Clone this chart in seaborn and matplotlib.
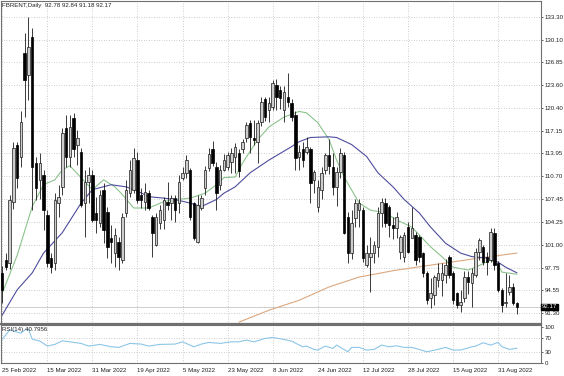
import numpy as np
import pandas as pd
import matplotlib
matplotlib.use("Agg")
import matplotlib.pyplot as plt
import seaborn as sns

sns.set_style("white")
plt.rcParams["font.family"] = ["Liberation Sans", "DejaVu Sans"]

# ---------------- data ----------------
opens = [97.0, 98.8, 98.4, 107.1, 115.2, 113.5, 128.2, 125.1, 130.4, 112.6,
         110.2, 110.9, 105.2, 99.1, 98.4, 106.9, 109.2, 117.6, 113.5, 119.0,
         115.2, 114.2, 106.9, 109.9, 110.9, 105.5, 104.1, 108.8, 105.6, 102.0,
         99.8, 101.4, 98.8, 105.5, 108.3, 108.8, 113.0, 108.1, 107.1, 108.3,
         104.9, 101.0, 104.1, 104.5, 107.1, 106.9, 107.6, 106.9, 110.5, 111.2,
         111.6, 106.9, 101.4, 106.2, 109.1, 111.9, 114.5, 112.0, 109.5, 111.6,
         112.0, 112.7, 113.5, 114.0, 114.5, 116.2, 118.3, 116.2, 115.5, 118.4,
         121.6, 120.1, 120.6, 123.7, 123.0, 120.1, 122.0, 121.1, 119.4, 113.5,
         114.5, 114.2, 114.5, 110.2, 106.4, 108.8, 111.6, 113.7, 112.0, 109.2,
         111.3, 113.7, 104.9, 99.8, 104.8, 105.9, 105.9, 98.1, 99.3, 99.8,
         100.7, 105.5, 106.9, 106.3, 103.8, 103.4, 100.0, 99.3, 103.5, 102.0,
         102.4, 102.1, 99.8, 97.0, 93.4, 93.9, 96.0, 96.0, 96.7, 99.3,
         97.0, 94.1, 92.4, 93.4, 96.4, 95.6, 96.7, 100.0, 100.7, 99.3,
         98.8, 102.7, 98.4, 94.6, 92.7, 94.3, 95.0, 92.78]
highs = [98.0, 99.8, 108.0, 115.5, 115.5, 119.9, 131.1, 133.3, 131.8, 113.5,
         114.0, 111.6, 105.9, 99.8, 108.3, 109.5, 117.5, 119.4, 119.4, 119.7,
         117.3, 114.7, 111.6, 112.0, 111.6, 107.8, 108.7, 109.7, 106.3, 103.8,
         103.4, 102.1, 105.5, 110.2, 113.0, 114.7, 114.2, 109.0, 109.7, 108.8,
         105.2, 105.5, 106.6, 107.8, 109.9, 108.1, 108.0, 110.9, 112.0, 113.7,
         111.9, 107.1, 108.0, 108.1, 112.1, 114.7, 115.7, 112.7, 112.3, 113.9,
         114.2, 114.7, 115.4, 114.5, 116.0, 118.4, 118.7, 118.7, 118.7, 121.9,
         122.0, 122.0, 124.4, 124.5, 123.5, 123.5, 125.4, 121.6, 119.9, 115.2,
         115.5, 116.3, 114.9, 111.6, 110.2, 112.0, 114.0, 116.0, 114.0, 112.0,
         114.7, 114.2, 105.6, 105.9, 107.5, 107.5, 106.3, 101.0, 102.1, 101.5,
         106.4, 107.6, 107.6, 106.6, 104.9, 105.6, 102.4, 102.8, 104.2, 106.3,
         102.8, 102.4, 100.0, 97.2, 96.3, 96.7, 98.4, 98.4, 99.0, 99.6,
         97.2, 94.3, 94.5, 97.3, 97.3, 97.7, 100.5, 102.0, 101.0, 100.0,
         103.4, 103.4, 98.7, 94.9, 97.0, 96.7, 95.5, 92.84]
lows = [92.7, 97.4, 97.5, 106.0, 109.0, 112.0, 119.1, 121.5, 105.9, 107.4,
        107.5, 103.1, 97.8, 97.0, 97.4, 104.9, 108.0, 112.0, 112.0, 113.5,
        112.3, 106.3, 102.1, 106.9, 104.2, 102.7, 103.5, 101.2, 99.1, 98.4,
        97.8, 97.4, 98.4, 104.9, 107.8, 108.3, 106.9, 106.2, 105.9, 105.9,
        99.3, 100.8, 103.2, 103.2, 105.9, 104.5, 104.2, 105.5, 110.2, 110.5,
        104.5, 101.6, 101.2, 105.9, 108.0, 111.4, 112.1, 105.9, 108.8, 111.4,
        111.6, 111.2, 111.2, 110.6, 114.0, 115.5, 114.0, 115.2, 112.6, 117.9,
        118.6, 118.4, 120.1, 120.1, 120.3, 118.4, 120.6, 118.5, 111.6, 111.6,
        112.0, 113.8, 106.9, 108.3, 105.6, 107.5, 111.0, 111.0, 108.1, 106.5,
        110.5, 102.5, 98.4, 99.0, 103.5, 103.5, 98.6, 97.8, 94.3, 98.4,
        99.3, 103.5, 103.5, 102.1, 101.8, 102.0, 99.0, 98.6, 99.8, 101.9,
        98.1, 98.6, 96.4, 92.6, 92.0, 92.4, 95.0, 93.7, 95.6, 96.3,
        92.6, 92.0, 91.5, 92.9, 94.0, 92.2, 96.4, 98.8, 98.1, 96.7,
        98.5, 97.4, 94.3, 91.4, 92.2, 93.9, 92.5, 91.18]
closes = [94.6, 97.8, 107.4, 114.7, 110.5, 118.4, 124.4, 129.1, 112.0, 109.0,
          112.6, 105.9, 98.4, 97.8, 107.4, 107.8, 116.9, 113.5, 117.7, 114.5,
          116.2, 106.6, 109.9, 110.9, 104.5, 104.5, 108.1, 103.1, 100.7, 101.4,
          102.4, 99.3, 104.9, 108.8, 111.6, 113.3, 107.4, 107.4, 108.5, 106.2,
          102.7, 104.9, 105.9, 107.4, 106.6, 107.6, 105.9, 109.9, 111.2, 113.0,
          104.9, 102.0, 106.6, 107.6, 111.6, 113.9, 112.6, 108.3, 111.6, 113.0,
          113.7, 114.0, 114.9, 111.5, 115.6, 118.0, 116.3, 115.9, 118.3, 121.3,
          119.1, 121.1, 124.0, 122.0, 121.8, 122.7, 121.3, 119.1, 113.3, 114.2,
          113.0, 114.9, 109.8, 111.3, 109.2, 111.2, 113.7, 112.2, 109.2, 111.3,
          114.0, 102.7, 99.8, 104.1, 106.9, 106.9, 99.1, 99.8, 99.8, 101.0,
          105.5, 107.1, 104.1, 103.8, 103.4, 104.9, 102.1, 102.4, 100.0, 103.4,
          98.8, 99.3, 97.0, 93.1, 94.1, 96.4, 97.0, 97.0, 98.1, 96.7,
          93.1, 92.4, 92.9, 96.4, 95.7, 97.0, 100.0, 101.7, 98.5, 98.5,
          102.8, 98.1, 94.6, 92.4, 92.9, 95.0, 92.7, 92.17]

date_labels = ["25 Feb 2022", "15 Mar 2022", "31 Mar 2022", "19 Apr 2022",
               "5 May 2022", "23 May 2022", "8 Jun 2022", "24 Jun 2022",
               "12 Jul 2022", "28 Jul 2022", "15 Aug 2022", "31 Aug 2022"]
label_bars = [0, 12, 24, 36, 48, 60, 72, 84, 96, 108, 120, 132]
price_ticks = [133.30, 130.10, 126.85, 123.60, 120.40, 117.15, 113.95,
               110.70, 107.45, 104.25, 101.00, 97.75, 94.55, 91.30]
rsi_ticks = [0, 30, 70, 100]

ma_fast_bar = [0, 4, 8, 11, 14, 16, 18, 21, 24, 27, 30, 32, 35, 39, 43, 46, 50,
               54, 57, 59, 62, 64, 68, 71, 75, 79, 81, 84, 87, 89, 91, 95, 98,
               102, 105, 109, 114, 117, 120, 124, 126, 130, 132, 133, 137]
ma_fast_val = [94.1, 99.5, 106.4, 109.5, 110.2, 111.6, 112.2, 110.5, 108.8,
               110.2, 109.2, 108.1, 106.2, 106.2, 107.1, 107.4, 107.6, 108.3,
               109.5, 110.5, 110.6, 112.6, 115.9, 117.7, 119.1, 119.9, 119.7,
               118.3, 115.9, 113.0, 110.6, 106.9, 105.9, 105.5, 104.5, 103.5,
               100.7, 99.3, 97.8, 97.4, 97.8, 98.8, 98.1, 97.1, 96.8]
ma_slow_bar = [0, 4, 8, 11, 16, 21, 24, 29, 33, 36, 39, 43, 46, 50, 53, 57, 59,
               62, 66, 71, 77, 79, 82, 87, 89, 93, 97, 100, 104, 107, 111, 114,
               118, 122, 125, 129, 132, 134, 137]
ma_slow_val = [91.0, 94.6, 97.0, 99.8, 102.7, 106.9, 108.8, 109.5, 109.2,
               108.6, 107.8, 107.6, 107.4, 106.9, 106.4, 107.4, 108.3, 109.2,
               111.2, 113.0, 114.9, 115.6, 116.2, 116.3, 116.2, 115.2, 113.5,
               111.2, 109.2, 107.4, 105.5, 103.5, 101.2, 99.8, 99.3, 99.1,
               98.5, 97.8, 97.0]
ma_long_bar = [63, 71, 79, 87, 95, 104, 109, 118, 127, 137]
ma_long_val = [90.0, 91.7, 93.1, 95.0, 96.4, 97.3, 97.7, 98.4, 99.1, 99.8]

rsi_bar = [0, 2, 5, 6, 7, 8, 10, 12, 14, 16, 18, 21, 23, 26, 29, 31, 34, 37,
           39, 42, 46, 48, 51, 53, 55, 58, 61, 63, 65, 67, 70, 72, 75, 77, 80,
           81, 83, 84, 86, 88, 89, 92, 93, 95, 97, 99, 101, 103, 105, 107, 109,
           110, 113, 116, 118, 120, 122, 125, 126, 128, 130, 132, 133, 135, 137]
rsi_val = [66, 92, 83, 92, 94, 66, 61, 47, 51.5, 61.6, 58.8, 54.3, 46.8, 51.5,
           44.8, 43.1, 54.3, 52.4, 46.8, 51.5, 52.4, 58.8, 44.8, 52.4, 57.1,
           54.3, 58.8, 58.8, 63.6, 58.8, 68.3, 71.1, 65.5, 60.8, 44.8, 46.8,
           37.5, 35.6, 46.8, 40.3, 49.6, 30.8, 43.1, 43.1, 35.6, 37.5, 49.6,
           44.8, 47.6, 43.1, 43.1, 40.3, 30.8, 37.5, 43.1, 35.6, 35.6, 44.8,
           46.8, 56.0, 49.6, 57.1, 44.8, 37.5, 40.8]

last_price = 92.17

# ---------------- figure ----------------
W, H = 564, 376
FS = 4.4
fig = plt.figure(figsize=(W / 100, H / 100), dpi=100)
fig.patch.set_facecolor("white")

ax = fig.add_axes([0.5 / W, (H - 324) / H, 540.5 / W, 323 / H])
ax2 = fig.add_axes([0.5 / W, (H - 362.7) / H, 540.5 / W, (362.7 - 325.2) / H])

df = pd.DataFrame({"bar": np.arange(len(closes)), "open": opens, "high": highs,
                   "low": lows, "close": closes})
up = df["close"] >= df["open"]

grid_kw = dict(color="#bdbdbd", lw=0.6, ls=(0, (1, 2)), zorder=0)
for b in label_bars:
    ax.axvline(b, **grid_kw)
    ax2.axvline(b, **grid_kw)
for p in price_ticks:
    ax.axhline(p, **grid_kw)
for r in [30, 70]:
    ax2.axhline(r, **grid_kw)

ax.axhline(last_price, color="#c8c8c8", lw=0.6, zorder=1)

# moving averages
sns.lineplot(x=ma_long_bar, y=ma_long_val, ax=ax, color="#dba77f", lw=0.8,
             estimator=None, sort=False, zorder=2)
sns.lineplot(x=ma_fast_bar, y=ma_fast_val, ax=ax, color="#8cc38c", lw=0.8,
             estimator=None, sort=False, zorder=2)
sns.lineplot(x=ma_slow_bar, y=ma_slow_val, ax=ax, color="#4d4d9e", lw=0.8,
             estimator=None, sort=False, zorder=2)

# candles
ax.vlines(df["bar"], df["low"], df["high"], color="#1a1a1a", lw=0.6, zorder=3)
ax.bar(df["bar"][up], (df["close"] - df["open"])[up], bottom=df["open"][up],
       width=0.66, color="#cdcdcd", edgecolor="#1a1a1a", linewidth=0.5, zorder=4)
ax.bar(df["bar"][~up], (df["open"] - df["close"])[~up], bottom=df["close"][~up],
       width=0.66, color="black", edgecolor="black", linewidth=0.5, zorder=4)

xmin, xmax = -0.45, 143.4
ax.set_xlim(xmin, xmax)
ax.set_ylim(89.74, 135.57)
ax.yaxis.tick_right()
ax.set_yticks(price_ticks)
ax.set_yticklabels([f"{v:.2f}" for v in price_ticks])
ax.set_xticks([])
ax.tick_params(axis="y", labelsize=FS, length=1.5, width=0.5, pad=1.0,
               colors="#222222")
ax.set_xlabel("")
ax.set_ylabel("")
for s in ax.spines.values():
    s.set_color("#707070")
    s.set_linewidth(0.8)
ax.spines["bottom"].set_linewidth(1.6)

ax.text(1.002, last_price, f"{last_price:.2f}", transform=ax.get_yaxis_transform(),
        fontsize=FS, color="white", va="center", ha="left",
        bbox=dict(boxstyle="square,pad=0.12", fc="black", ec="black"))

fig.text(2 / W, 1 - 6 / H, "FBRENT,Daily  92.78 92.84 91.18 92.17",
         fontsize=FS, va="center", ha="left", color="#222222")

# RSI panel
sns.lineplot(x=rsi_bar, y=rsi_val, ax=ax2, color="#8cc6e8", lw=0.8,
             estimator=None, sort=False)
ax2.set_xlim(xmin, xmax)
ax2.set_ylim(0, 105.6)
ax2.yaxis.tick_right()
ax2.set_yticks(rsi_ticks)
ax2.set_yticklabels([str(v) for v in rsi_ticks])
ax2.set_xticks(label_bars)
ax2.set_xticklabels(date_labels, ha="left")
ax2.tick_params(axis="y", labelsize=FS, length=1.5, width=0.5, pad=1.0,
                colors="#222222")
ax2.tick_params(axis="x", labelsize=FS, length=2, width=0.5, pad=2,
                colors="#222222")
ax2.set_xlabel("")
ax2.set_ylabel("")
for s in ax2.spines.values():
    s.set_color("#707070")
    s.set_linewidth(0.8)
fig.text(2 / W, 1 - 330 / H, "RSI(14) 40.7956", fontsize=FS, va="center",
         ha="left", color="#222222")

fig.savefig("out.png", dpi=100, facecolor="white")
